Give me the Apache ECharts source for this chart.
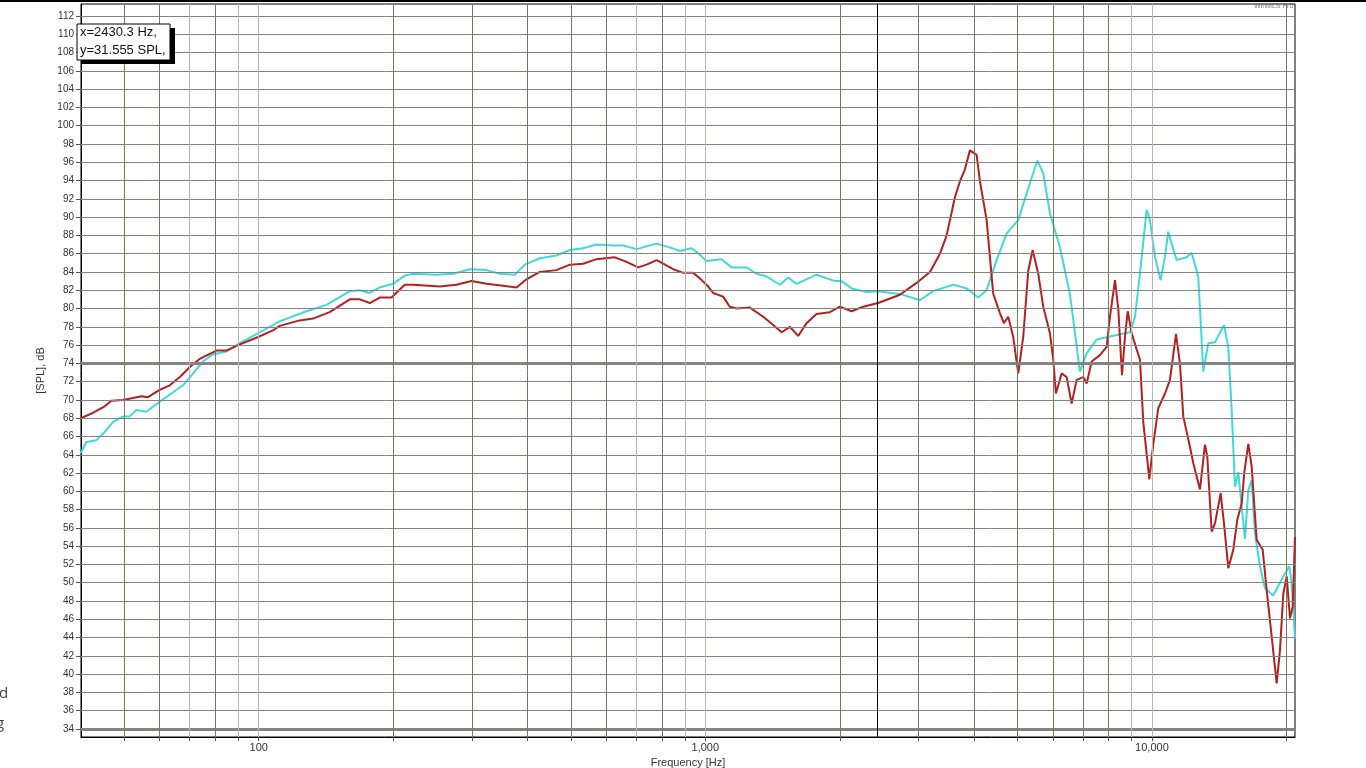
<!DOCTYPE html>
<html>
<head>
<meta charset="utf-8">
<script src="https://cdn.jsdelivr.net/npm/echarts@6/dist/echarts.min.js"></script>
<style>
html,body{margin:0;padding:0;background:#fff;}
#chart{width:1366px;height:768px;}
</style>
</head>
<body>
<div id="chart"></div>
<script>
// ---- data (frequency in Hz, level in dB SPL) ----
const redFreq = [40,42.6,45.2,46.8,49.7,52.3,54.6,56.5,60,63.2,66.6,70.1,73.8,80.4,84.7,89.9,98.8,107.6,111.4,123.5,132.3,144.2,159.9,168.4,177.3,186.6,198.3,212.3,221.6,254.3,277.3,299.5,323.6,352.5,377.7,397.8,426,464.2,497.4,532.5,570.6,627.1,666.1,707.3,738.6,777.7,804.6,847.2,892.1,939.3,972.1,1015,1041,1096,1134,1175,1258,1348,1419,1482,1546,1614,1685,1774,1900,2001,2126,2256,2438,2727,2972,3184,3352,3470,3622,3715,3812,3912,4050,4120,4264,4412,4567,4661,4766,4891,5019,5150,5284,5406,5565,5710,5910,6012,6095,6277,6442,6610,6783,7019,7143,7328,7648,7917,8054,8264,8406,8569,8702,8826,9009,9244,9403,9563,9865,10070,10332,10696,10974,11320,11554,11753,12123,12375,12810,13145,13303,13607,13840,14253,14499,14823,15211,15529,15884,16101,16434,16724,17160,17701,18068,18540,19024,19350,19683,20032,20376,20664,20908];
const redSPL = [68.0,68.6,69.3,69.9,70.0,70.2,70.4,70.3,71.1,71.6,72.5,73.6,74.5,75.4,75.4,76.0,76.8,77.6,78.1,78.7,78.9,79.6,81.0,81.0,80.6,81.2,81.2,82.6,82.6,82.4,82.6,83.0,82.7,82.5,82.3,83.2,84.0,84.2,84.8,84.9,85.4,85.6,85.1,84.5,84.8,85.3,84.9,84.3,83.9,83.9,83.3,82.4,81.7,81.3,80.2,80.0,80.1,79.1,78.2,77.4,78.0,77.0,78.4,79.4,79.6,80.2,79.7,80.2,80.6,81.5,82.8,84.0,86.0,88.0,92.2,93.9,95.2,97.3,96.8,93.9,89.7,81.6,79.5,78.4,79.1,76.9,72.9,76.9,84.1,86.4,83.8,80.2,77.3,74.4,70.7,72.9,72.5,69.6,72.2,72.5,71.8,74.2,74.9,75.8,79.1,83.1,80.0,72.7,76.9,79.7,77.3,75.5,74.4,67.6,61.3,65.2,69.1,70.7,72.2,77.2,74.0,68.2,65.2,63.1,60.2,65.1,63.8,55.6,56.5,59.8,56.5,51.6,53.6,56.9,58.7,62.1,65.2,62.7,54.7,53.6,49.2,44.1,39.0,42.6,48.8,50.7,46.1,47.4,55.0];

const cyanFreq = [40,41.1,43.3,45.2,47.2,49.7,51.4,53.2,56,60,63.7,67.7,71.3,75,79,84.7,89.9,98.8,111.4,127.9,141.8,159.9,168.4,177.3,186.6,199.9,212.3,221.6,250,272.4,296.9,323.6,346.6,374.5,394.2,426,464.2,497.4,532.5,570.6,621.7,654.6,701.5,738.6,777.7,818.7,876.9,931.3,955.7,1006,1087,1145,1237,1302,1371,1469,1533,1601,1774,1950,2018,2126,2296,2438,2727,3022,3237,3589,3846,4083,4264,4489,4727,5019,5243,5536,5710,5910,6223,6551,6899,7140,7518,8335,8929,9162,9400,9730,9897,10155,10459,10696,10877,11068,11357,11958,12271,12697,13030,13370,13840,14499,14823,15085,15344,15608,15884,16157,16434,16724,17009,17455,17911,18693,19683,20307,20560,20908];
const cyanSPL = [64.2,65.4,65.6,66.5,67.6,68.2,68.2,68.9,68.7,69.8,70.7,71.6,72.9,74.2,75.0,75.3,76.1,77.2,78.6,79.7,80.4,81.9,82.0,81.7,82.3,82.7,83.6,83.8,83.7,83.8,84.3,84.2,83.8,83.7,84.8,85.5,85.8,86.4,86.6,87.0,86.9,86.9,86.5,86.8,87.1,86.8,86.3,86.6,86.2,85.2,85.4,84.5,84.5,83.8,83.5,82.6,83.4,82.7,83.7,83.0,83.0,82.2,81.8,81.9,81.6,80.9,81.9,82.6,82.2,81.2,82.0,85.3,88.2,89.7,92.6,96.2,94.8,90.4,86.7,81.6,73.1,75.1,76.6,77.1,77.4,79.1,83.8,90.8,89.7,85.7,83.1,85.7,88.4,87.1,85.3,85.6,86.1,83.5,73.1,76.2,76.3,78.2,75.8,68.9,60.5,62.1,58.3,54.8,60.1,61.2,55.4,51.8,49.4,48.6,50.7,51.8,49.9,43.9];

const yTickValues = [34,36,38,40,42,44,46,48,50,52,54,56,58,60,62,64,66,68,70,72,74,76,78,80,82,84,86,88,90,92,94,96,98,100,102,104,106,108,110,112];
const xLabelValues = [100,1000,10000];
const xGridDark = [50,60,80,200,300,400,500,600,800,2000,3000,4000,5000,6000,7000,8000,20000];
const xGridLight = [70,90,100,700,900,1000,9000,10000];
const yGridThick = [34,74];
const cursorFreq = 2430.3;
const cursorText = ['x=2430.3 Hz,', 'y=31.555 SPL,'];

const xMin = 40, xMax = 20908;
const yMin = 33.125, yMax = 113.313;

const chart = echarts.init(document.getElementById('chart'), null, {renderer:'canvas'});

const gridLines = [];
yTickValues.forEach(v => {
  const thick = yGridThick.indexOf(v) >= 0;
  gridLines.push({yAxis: v, lineStyle: {color: '#848484', width: thick ? 3 : 1, type: 'solid'}});
});
xGridDark.forEach(v => gridLines.push({xAxis: v, lineStyle: {color: '#7a7a5c', width: 1, type: 'solid'}}));
xGridLight.forEach(v => gridLines.push({xAxis: v, lineStyle: {color: '#b8b8a8', width: 1, type: 'solid'}}));
gridLines.push({xAxis: cursorFreq, lineStyle: {color: '#000', width: 1, type: 'solid'}});

const xTickAll = xGridDark.concat(xGridLight).sort((a,b)=>a-b);

const option = {
  animation: false,
  backgroundColor: '#fff',
  grid: {left: 81, right: 71, top: 4, bottom: 31, outerBoundsMode: 'none', containLabel: false,
    show: true, borderColor: '#000', borderWidth: 1, backgroundColor: '#fff'},
  xAxis: {
    type: 'log', logBase: 10, min: xMin, max: xMax,
    name: 'Frequency [Hz]', nameLocation: 'middle', nameGap: 19,
    nameTextStyle: {fontFamily: 'Liberation Sans', fontSize: 11, color: '#333'},
    axisLine: {show: true, lineStyle: {color: '#000', width: 1}},
    axisTick: {show: true, length: 4, lineStyle: {color: '#555'}, customValues: xTickAll},
    axisLabel: {
      customValues: xLabelValues,
      fontFamily: 'Liberation Sans', fontSize: 11, color: '#333', margin: 5,
      formatter: function (v) {
        const l = Math.log10(v);
        if (Math.abs(l - Math.round(l)) > 1e-6) return '';
        return Math.round(v).toLocaleString('en-US');
      }
    },
    splitLine: {show: false}, minorTick: {show: false}, minorSplitLine: {show: false}
  },
  yAxis: {
    type: 'value', min: yMin, max: yMax,
    name: '[SPL], dB', nameLocation: 'middle', nameGap: 33, nameRotate: 90,
    nameTextStyle: {fontFamily: 'Liberation Sans', fontSize: 11, color: '#333'},
    axisLine: {show: true, lineStyle: {color: '#000', width: 1}},
    axisTick: {show: true, length: 5, lineStyle: {color: '#555'}, customValues: yTickValues},
    axisLabel: {customValues: yTickValues, fontFamily: 'Liberation Sans', fontSize: 10, color: '#333', margin: 7,
      formatter: v => String(Math.round(v))},
    splitLine: {show: false}
  },
  series: [
    {
      name: 'grid', type: 'line', data: [], z: 1, silent: true,
      markLine: {silent: true, symbol: 'none', label: {show: false}, animation: false, data: gridLines}
    },
    {
      name: 'cyan', type: 'line', z: 3, showSymbol: false, symbol: 'none', smooth: false,
      lineStyle: {color: '#40d9dc', width: 2}, itemStyle: {color: '#40d9dc'},
      data: cyanFreq.map((f,i) => [f, cyanSPL[i]])
    },
    {
      name: 'red', type: 'line', z: 4, showSymbol: false, symbol: 'none', smooth: false,
      lineStyle: {color: '#b3201f', width: 2}, itemStyle: {color: '#b3201f'},
      data: redFreq.map((f,i) => [f, redSPL[i]])
    }
  ],
  graphic: [
    {type: 'rect', shape: {x: 0, y: 0, width: 1366, height: 2}, style: {fill: '#000'}, z: 100},
    {type: 'rect', shape: {x: 81, y: 28, width: 94, height: 36}, style: {fill: '#000'}, z: 100},
    {type: 'rect', shape: {x: 77, y: 24, width: 93, height: 36}, style: {fill: '#fff', stroke: '#000', lineWidth: 1}, z: 101},
    {type: 'text', x: 80, y: 26, style: {text: cursorText[0], font: '13px "Liberation Sans"', fill: '#111'}, z: 102},
    {type: 'text', x: 80, y: 44, style: {text: cursorText[1], font: '13px "Liberation Sans"', fill: '#111'}, z: 102},
    {type: 'text', x: 1254, y: 3, style: {text: 'WinMLS Pro', font: '7px "Liberation Sans"', fill: '#777'}, z: 102},
    {type: 'text', x: -1, y: 686, style: {text: 'd', font: '15px "Open Sans"', fill: '#444'}, z: 102},
    {type: 'text', x: -4, y: 716, style: {text: 'g', font: '15px "Open Sans"', fill: '#444'}, z: 102}
  ]
};
chart.setOption(option);
</script>
</body>
</html>
